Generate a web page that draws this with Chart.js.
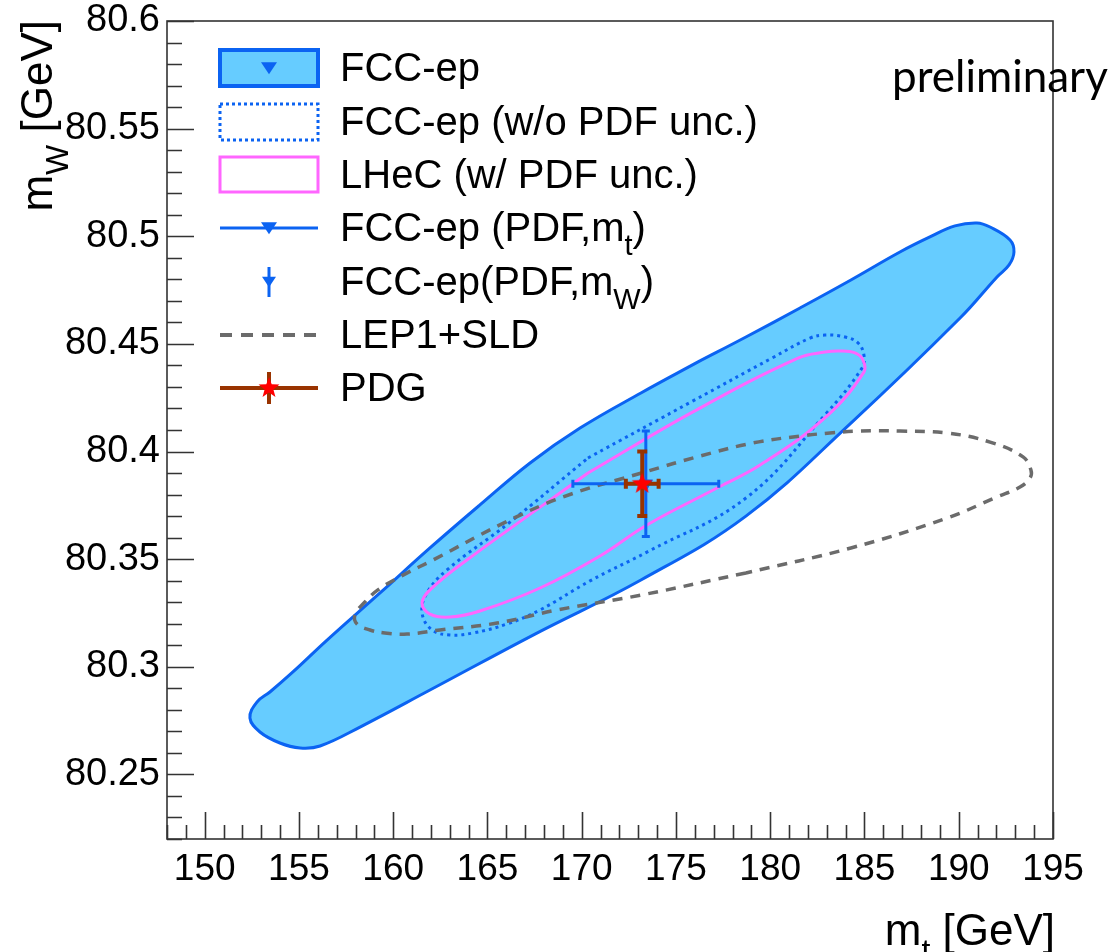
<!DOCTYPE html>
<html>
<head>
<meta charset="utf-8">
<title>mW vs mt</title>
<script src="https://cdn.jsdelivr.net/npm/chart.js@4.4.1/dist/chart.umd.min.js"></script>
<style>
  body { margin: 0; background: #fff; }
  canvas { display: block; }
</style>
</head>
<body>
<canvas id="plot" width="1118" height="952"></canvas>
<script>
const FONT = '"Liberation Sans", Arial, Helvetica, sans-serif';

// axis ranges and labelled ticks
const mtRange = [148, 195];
const mwRange = [80.22, 80.6];
const mtTicks = [150, 155, 160, 165, 170, 175, 180, 185, 190, 195];
const mwTicks = [80.25, 80.3, 80.35, 80.4, 80.45, 80.5, 80.55, 80.6];
const mwTickLabels = ['80.25', '80.3', '80.35', '80.4', '80.45', '80.5', '80.55', '80.6'];

// FCC-ep contour incl. PDF uncertainties (filled band)
const fccMt = [176.27, 178.71, 181.58, 184.28, 186.88, 188.47, 189.80, 190.97, 191.66, 192.72, 192.93, 192.67, 192.03, 190.07, 184.28, 178.71, 173.14, 167.52, 161.95, 158.24, 156.12, 155.06, 153.99, 152.93, 152.40, 152.77, 153.46, 154.68, 156.49, 159.30, 161.95, 164.60, 167.26, 169.91, 173.14, 176.27];
const fccMw = [80.4421, 80.4532, 80.4667, 80.4797, 80.4927, 80.4997, 80.5048, 80.5062, 80.5043, 80.4983, 80.4927, 80.4867, 80.4811, 80.4620, 80.4132, 80.3700, 80.3403, 80.3152, 80.2892, 80.2720, 80.2632, 80.2623, 80.2646, 80.2697, 80.2762, 80.2836, 80.2883, 80.2976, 80.3124, 80.3343, 80.3552, 80.3752, 80.3947, 80.4109, 80.4272, 80.4421];

// FCC-ep contour without PDF uncertainties (dotted)
const fccNoPdfMt = [170.33, 175.90, 180.09, 182.11, 182.90, 183.97, 184.66, 184.97, 184.87, 182.90, 178.71, 173.46, 170.44, 167.79, 166.04, 164.23, 163.01, 162.06, 161.53, 161.79, 162.85, 166.14, 170.33];
const fccNoPdfMw = [80.3970, 80.4235, 80.4434, 80.4527, 80.4541, 80.4532, 80.4504, 80.4448, 80.4388, 80.4170, 80.3784, 80.3533, 80.3399, 80.3264, 80.3199, 80.3157, 80.3148, 80.3171, 80.3250, 80.3343, 80.3450, 80.3668, 80.3970];

// LHeC contour with PDF uncertainties
const lhecMt = [170.33, 175.90, 181.47, 182.90, 183.70, 184.50, 184.92, 184.97, 182.90, 179.46, 177.28, 173.46, 170.97, 167.79, 164.60, 163.01, 161.95, 161.53, 161.95, 163.91, 170.33];
const lhecMw = [80.3900, 80.4184, 80.4434, 80.4462, 80.4467, 80.4458, 80.4425, 80.4369, 80.4156, 80.3937, 80.3835, 80.3659, 80.3515, 80.3366, 80.3259, 80.3231, 80.3245, 80.3296, 80.3357, 80.3496, 80.3900];

// LEP1+SLD contour
const lepMt = [178.71, 173.14, 168.69, 165.51, 162.48, 160.73, 159.56, 158.77, 158.08, 157.97, 158.50, 159.19, 160.52, 162.11, 165.66, 169.01, 173.36, 176.27, 179.09, 181.58, 183.17, 184.76, 186.88, 189.38, 191.66, 193.41, 193.83, 193.78, 193.25, 192.03, 189.38, 184.28, 178.71];
const lepMw = [80.3436, 80.3333, 80.3264, 80.3203, 80.3171, 80.3152, 80.3157, 80.3171, 80.3199, 80.3241, 80.3301, 80.3357, 80.3426, 80.3496, 80.3659, 80.3789, 80.3905, 80.3979, 80.4040, 80.4072, 80.4086, 80.4095, 80.4095, 80.4086, 80.4044, 80.3975, 80.3914, 80.3877, 80.3835, 80.3789, 80.3691, 80.3552, 80.3436];

// single measurements: FCC-ep (PDF,mt), FCC-ep (PDF,mW), PDG
const pointMt = [173.4, 173.4, 173.21];
const pointMw = [80.385, 80.385, 80.385];
const pointMtErr = [3.87, 0, 0.87];
const pointMwErr = [0, 0.0245, 0.015];

const legendLabels = ['FCC-ep', 'FCC-ep (w/o PDF unc.)', 'LHeC (w/ PDF unc.)', 'FCC-ep (PDF,m_{t})', 'FCC-ep(PDF,m_{W})', 'LEP1+SLD', 'PDG'];

const BLUE = '#0b63f2';
const FILL = '#66ccff';
const PINK = '#ff66ff';
const GREY = '#6b6b6b';
const BROWN = '#993300';
const RED = '#ff0000';

const zip = (xs, ys) => xs.map((x, i) => ({ x, y: ys[i] }));

function makeStar(r, color) {
  const c = document.createElement('canvas');
  const s = Math.ceil(2 * r + 2);
  c.width = c.height = s;
  const g = c.getContext('2d');
  g.translate(s / 2, s / 2);
  g.beginPath();
  for (let i = 0; i < 10; i++) {
    const rr = i % 2 ? r * 0.42 : r;
    const a = -Math.PI / 2 + i * Math.PI / 5;
    g.lineTo(rr * Math.cos(a), rr * Math.sin(a));
  }
  g.closePath();
  g.fillStyle = color;
  g.fill();
  return c;
}
const star = makeStar(11, RED);

// text with _{...} subscripts
function richParts(str) {
  const parts = [];
  const re = /_\{([^}]*)\}/g;
  let last = 0, m;
  while ((m = re.exec(str))) {
    if (m.index > last) parts.push({ t: str.slice(last, m.index), sub: false });
    parts.push({ t: m[1], sub: true });
    last = re.lastIndex;
  }
  if (last < str.length) parts.push({ t: str.slice(last), sub: false });
  return parts;
}

function drawRich(ctx, str, x, y, size, align) {
  const parts = richParts(str);
  const fontFor = p => `${p.sub ? Math.round(size * 0.72) : size}px ${FONT}`;
  let w = 0;
  parts.forEach(p => { ctx.font = fontFor(p); p.w = ctx.measureText(p.t).width; w += p.w; });
  let cx = align === 'right' ? x - w : x;
  ctx.textAlign = 'left';
  ctx.textBaseline = 'alphabetic';
  ctx.fillStyle = '#000';
  parts.forEach(p => {
    ctx.font = fontFor(p);
    ctx.fillText(p.t, cx, y + (p.sub ? size * 0.36 : 0));
    cx += p.w;
  });
}

function downTriangle(ctx, x, y, r, color) {
  ctx.beginPath();
  ctx.moveTo(x - r, y - r * 0.6);
  ctx.lineTo(x + r, y - r * 0.6);
  ctx.lineTo(x, y + r * 0.9);
  ctx.closePath();
  ctx.fillStyle = color;
  ctx.fill();
}

// error bars drawn right before each marker dataset
const errorBars = {
  id: 'errorBars',
  beforeDatasetDraw(chart, args) {
    const ds = chart.data.datasets[args.index];
    if (!ds.err) return;
    const { ctx, scales: { x, y } } = chart;
    const p = ds.data[0];
    const px = x.getPixelForValue(p.x), py = y.getPixelForValue(p.y);
    const e = ds.err;
    ctx.save();
    ctx.strokeStyle = e.color;
    ctx.lineWidth = e.width;
    ctx.beginPath();
    if (e.dx) {
      const l = x.getPixelForValue(p.x - e.dx), r = x.getPixelForValue(p.x + e.dx);
      ctx.moveTo(l, py); ctx.lineTo(r, py);
      ctx.moveTo(l, py - e.cap); ctx.lineTo(l, py + e.cap);
      ctx.moveTo(r, py - e.cap); ctx.lineTo(r, py + e.cap);
    }
    if (e.dy) {
      const t = y.getPixelForValue(p.y + e.dy), b = y.getPixelForValue(p.y - e.dy);
      ctx.moveTo(px, t); ctx.lineTo(px, b);
      ctx.moveTo(px - e.cap, t); ctx.lineTo(px + e.cap, t);
      ctx.moveTo(px - e.cap, b); ctx.lineTo(px + e.cap, b);
    }
    ctx.stroke();
    ctx.restore();
  }
};

// ROOT style frame with inward ticks
const frame = {
  id: 'frame',
  afterDatasetsDraw(chart) {
    const { ctx, chartArea: a, scales: { x, y } } = chart;
    ctx.save();
    ctx.strokeStyle = '#333';
    ctx.lineWidth = 1.6;
    ctx.strokeRect(a.left, a.top, a.right - a.left, a.bottom - a.top);
    ctx.beginPath();
    for (let v = mtRange[0]; v <= mtRange[1]; v++) {
      const px = Math.round(x.getPixelForValue(v)) + 0.5;
      const len = v % 5 === 0 ? 27 : 14;
      ctx.moveTo(px, a.bottom); ctx.lineTo(px, a.bottom - len);
    }
    for (let i = 22; i <= 60; i++) {
      const py = Math.round(y.getPixelForValue(80 + i / 100)) + 0.5;
      const len = i % 5 === 0 ? 27 : 15;
      ctx.moveTo(a.left, py); ctx.lineTo(a.left + len, py);
    }
    ctx.stroke();
    ctx.restore();
  }
};

const annotations = {
  id: 'annotations',
  afterDraw(chart) {
    const { ctx, chartArea: a } = chart;
    ctx.save();

    // axis titles
    drawRich(ctx, 'm_{t} [GeV]', a.right + 2, 945, 44, 'right');
    ctx.save();
    ctx.translate(52, a.top - 1);
    ctx.rotate(-Math.PI / 2);
    drawRich(ctx, 'm_{W} [GeV]', 0, 0, 44, 'right');
    ctx.restore();

    // legend
    const x0 = a.left + 53, x1 = a.left + 151, xm = (x0 + x1) / 2, tx = a.left + 173;
    const rows = [68, 122, 175, 228, 282, 335, 388];

    ctx.fillStyle = FILL;
    ctx.fillRect(x0, rows[0] - 18, x1 - x0, 36);
    ctx.strokeStyle = BLUE; ctx.lineWidth = 4;
    ctx.strokeRect(x0, rows[0] - 18, x1 - x0, 36);
    downTriangle(ctx, xm, rows[0] - 1, 8, BLUE);

    ctx.setLineDash([3, 3]); ctx.lineWidth = 3;
    ctx.strokeRect(x0, rows[1] - 18, x1 - x0, 36);
    ctx.setLineDash([]);

    ctx.strokeStyle = PINK; ctx.lineWidth = 3;
    ctx.strokeRect(x0, rows[2] - 18, x1 - x0, 35);

    ctx.strokeStyle = BLUE; ctx.lineWidth = 3;
    ctx.beginPath(); ctx.moveTo(x0, rows[3]); ctx.lineTo(x1, rows[3]); ctx.stroke();
    downTriangle(ctx, xm, rows[3] - 1, 8, BLUE);

    ctx.beginPath(); ctx.moveTo(xm, rows[4] - 15); ctx.lineTo(xm, rows[4] + 15); ctx.stroke();
    downTriangle(ctx, xm, rows[4] - 1, 7, BLUE);

    ctx.strokeStyle = GREY; ctx.lineWidth = 4; ctx.setLineDash([12, 9]);
    ctx.beginPath(); ctx.moveTo(x0, rows[5]); ctx.lineTo(x1, rows[5]); ctx.stroke();
    ctx.setLineDash([]);

    ctx.strokeStyle = BROWN; ctx.lineWidth = 4;
    ctx.beginPath();
    ctx.moveTo(x0, rows[6]); ctx.lineTo(x1, rows[6]);
    ctx.moveTo(xm, rows[6] - 16); ctx.lineTo(xm, rows[6] + 16);
    ctx.stroke();
    ctx.drawImage(star, xm - star.width / 2, rows[6] - star.height / 2);

    legendLabels.forEach((lab, i) => drawRich(ctx, lab, tx, rows[i] + 13, 40, 'left'));

    ctx.font = '44px Lato, "Open Sans", sans-serif';
    ctx.fillStyle = '#000';
    ctx.textAlign = 'left';
    ctx.textBaseline = 'alphabetic';
    ctx.fillText('preliminary', 892, 92);
    ctx.restore();
  }
};

const contour = (data, color, extra) => Object.assign({
  data, showLine: true, borderColor: color, borderWidth: 3, pointRadius: 0,
  tension: 0.4, fill: false
}, extra);

const marker = (i, style, color, err, order) => ({
  data: [{ x: pointMt[i], y: pointMw[i] }],
  showLine: false, pointStyle: style, pointRadius: 8, rotation: style === 'triangle' ? 180 : 0,
  backgroundColor: color, borderColor: color, borderWidth: 0,
  err: Object.assign({ dx: pointMtErr[i], dy: pointMwErr[i] }, err), order
});

new Chart(document.getElementById('plot'), {
  type: 'scatter',
  data: {
    datasets: [
      contour(zip(fccMt, fccMw), BLUE, { backgroundColor: FILL, fill: 'shape', order: 6 }),
      contour(zip(fccNoPdfMt, fccNoPdfMw), BLUE, { borderDash: [3, 4], order: 5 }),
      contour(zip(lhecMt, lhecMw), PINK, { order: 4 }),
      contour(zip(lepMt, lepMw), GREY, { borderDash: [10, 8], borderWidth: 3.5, order: 3 }),
      marker(0, 'triangle', BLUE, { color: BLUE, width: 3, cap: 4 }, 2),
      marker(1, 'triangle', BLUE, { color: BLUE, width: 3, cap: 4 }, 1),
      marker(2, star, RED, { color: BROWN, width: 4, cap: 5 }, 0)
    ]
  },
  options: {
    responsive: false,
    animation: false,
    events: [],
    layout: { padding: { top: 21, right: 65, left: 0, bottom: 0 } },
    plugins: { legend: { display: false }, tooltip: { enabled: false } },
    scales: {
      x: {
        type: 'linear', min: mtRange[0], max: mtRange[1],
        grid: { display: false, drawTicks: false }, border: { display: false },
        ticks: { padding: 9, autoSkip: false, maxRotation: 0, color: '#000', font: { family: FONT, size: 37 }, callback: v => String(v) },
        afterBuildTicks: s => { s.ticks = mtTicks.map(v => ({ value: v })); },
        afterFit: s => { s.height = 113; s.paddingLeft = 0; s.paddingRight = 0; }
      },
      y: {
        type: 'linear', min: mwRange[0], max: mwRange[1],
        grid: { display: false, drawTicks: false }, border: { display: false },
        ticks: { padding: 7, autoSkip: false, color: '#000', font: { family: FONT, size: 38 }, callback: (v, i) => mwTickLabels[i] },
        afterBuildTicks: s => { s.ticks = mwTicks.map(v => ({ value: v })); },
        afterFit: s => { s.width = 167; s.paddingTop = 0; s.paddingBottom = 0; }
      }
    }
  },
  plugins: [errorBars, frame, annotations]
});
</script>
</body>
</html>
